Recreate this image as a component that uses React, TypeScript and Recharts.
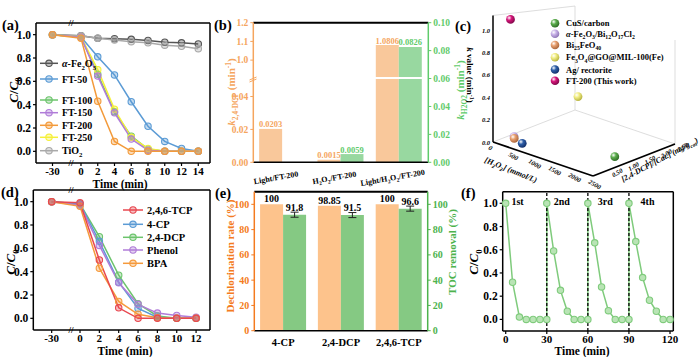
import React from "react";
import {
  LineChart,
  Line,
  BarChart,
  Bar,
  ScatterChart,
  Scatter,
  XAxis,
  YAxis,
  ReferenceLine,
  ReferenceDot,
  LabelList,
  ErrorBar,
} from "recharts";

const FONT = '"Liberation Serif", "Times New Roman", serif';

// (a) C/C0 vs time for the catalysts
const timeA = [-30, 0, 2, 4, 6, 8, 10, 12, 14];
const fe2o3 = [1.0, 0.99, 0.97, 0.965, 0.96, 0.95, 0.935, 0.93, 0.92];
const tio2 = [1.0, 0.99, 0.97, 0.955, 0.94, 0.93, 0.91, 0.9, 0.88];
const ft50 = [1.0, 0.98, 0.81, 0.655, 0.425, 0.215, 0.085, 0.025, 0.0];
const ft100 = [1.0, 0.98, 0.66, 0.34, 0.13, 0.02, 0.0, 0.0, 0.0];
const ft150 = [1.0, 0.98, 0.645, 0.33, 0.105, 0.01, 0.0, 0.0, 0.0];
const ft200 = [1.0, 0.97, 0.43, 0.085, 0.0, 0.0, 0.0, 0.0, 0.0];
const ft250 = [1.0, 0.98, 0.7, 0.36, 0.12, 0.025, 0.0, 0.0, 0.0];
const ticksA = [-30, 0, 2, 4, 6, 8, 10, 12, 14];

// (b) rate constants
const catsB = ["Light/FT-200", "H2O2/FT-200", "Light/H2O2/FT-200"];
const kDcp = [0.0203, 0.0015, 1.0806];
const kH2o2 = [0, 0.0059, 0.0826];
const kDcpTicks = [0, 0.02, 0.04, 1.0, 1.1, 1.2];
const kH2o2Ticks = [0, 0.02, 0.04, 0.06, 0.08, 0.1];

// (c) comparison with literature: [H2O2] (mmol/L), [2,4-DCP]/[Cat.], k (min-1)
const litNames = [
  "CuS/carbon",
  "α-Fe2O3/Bi12O17Cl2",
  "Bi25FeO40",
  "Fe3O4@GO@MIL-100(Fe)",
  "Ag/ rectorite",
  "FT-200 (This work)",
];
const litH2o2 = [2200, 320, 350, 1370, 550, 150];
const litRatio = [1.03, 0.25, 0.22, 0.92, 0.22, 0.35];
const litK = [0.02, 0.06, 0.05, 0.5, 0.03, 1.1];
const h2o2Ticks = [0, 500, 1000, 1500, 2000, 2500];
const ratioTicks = [0.5, 1.0, 1.5, 2.0, 2.5];
const kTicks3d = [0, 0.2, 0.4, 0.6, 0.8, 1.0];

// (d) C/C0 vs time for the pollutants
const timeD = [-30, 0, 2, 4, 6, 8, 10, 12];
const tcp = [1.0, 0.99, 0.5, 0.09, 0.0, 0.0, 0.0, 0.0];
const cp4 = [1.0, 0.98, 0.66, 0.31, 0.085, 0.01, 0.0, 0.0];
const dcp = [1.0, 0.98, 0.7, 0.37, 0.125, 0.02, 0.0, 0.0];
const phenol = [1.0, 0.97, 0.625, 0.305, 0.12, 0.045, 0.025, 0.01];
const bpa = [1.0, 0.96, 0.43, 0.145, 0.035, 0.005, 0.0, 0.0];
const ticksD = [-30, 0, 2, 4, 6, 8, 10, 12];

// (e) dechlorination and TOC removal
const catsE = ["4-CP", "2,4-DCP", "2,4,6-TCP"];
const dechlor = [100, 98.85, 100];
const toc = [91.8, 91.5, 96.6];
const tocErr = [2, 2, 2];

// (f) recycling runs
const runStarts = [0, 30, 60, 90];
const runLabels = ["1st", "2nd", "3rd", "4th"];
const runTimes = [0, 5, 10, 15, 20, 25, 30];
const run1 = [1.0, 0.32, 0.02, 0.0, 0.0, 0.0, 0.0];
const run2 = [1.0, 0.59, 0.25, 0.07, 0.0, 0.0, 0.0];
const run3 = [1.0, 0.66, 0.28, 0.075, 0.0, 0.0, 0.0];
const run4 = [1.0, 0.67, 0.36, 0.165, 0.07, 0.0, 0.0];

const ORANGE_B = "#F5A55E";
const GREEN_B = "#5FCB6B";
const ORANGE_E = "#F47B20";
const GREEN_E = "#4DB34D";

type Seg = [string, string];

function chem(s: string): Seg[] {
  const out: Seg[] = [];
  let prevKind = "n";
  let prevCh = "";
  for (const ch of s) {
    let kind = "n";
    if (/\d/.test(ch) && (prevKind === "b" || /[A-Za-z)]/.test(prevCh))) kind = "b";
    else if (ch === "α") kind = "i";
    if (out.length && out[out.length - 1][1] === kind) out[out.length - 1][0] += ch;
    else out.push([ch, kind]);
    prevKind = kind;
    prevCh = ch;
  }
  return out;
}

function Rich({ segs, fs }: { segs: Seg[]; fs: number }) {
  let shift = 0;
  return (
    <>
      {segs.map(([t, k], i) => {
        const target = k === "b" ? fs * 0.28 : k === "p" ? -fs * 0.38 : 0;
        const dy = target - shift;
        shift = target;
        const small = k === "b" || k === "p";
        return (
          <tspan
            key={i}
            dy={dy}
            fontSize={small ? fs * 0.68 : fs}
            fontStyle={k === "i" ? "italic" : undefined}
          >
            {t}
          </tspan>
        );
      })}
    </>
  );
}

function T({ x, y, fs, segs, rot = 0, anchor = "start", fill = "#000", italic = false }: any) {
  return (
    <text
      x={x}
      y={y}
      fontSize={fs}
      fill={fill}
      fontStyle={italic ? "italic" : undefined}
      textAnchor={anchor}
      transform={rot ? `rotate(${rot} ${x} ${y})` : undefined}
    >
      <Rich segs={segs} fs={fs} />
    </text>
  );
}

const axisBlack = { stroke: "#000", strokeWidth: 1.5 };
const tickBlack = { stroke: "#000", strokeWidth: 1.2 };

// ---------- line panels (a) and (d) ----------
type S = { key: string; color: string; values: number[] };

function DecayChart({ time, series, gapPos, breakPos, domainX, ticks, width, height, margin, yWidth, xHeight }: any) {
  const pos = (t: number) => (t < 0 ? gapPos : t);
  const data = time.map((t: number, i: number) => {
    const row: any = { x: pos(t) };
    series.forEach((s: S) => (row[s.key] = s.values[i]));
    return row;
  });
  return (
    <LineChart width={width} height={height} data={data} margin={margin}>
      <XAxis
        dataKey="x"
        type="number"
        domain={domainX}
        ticks={ticks.map(pos)}
        tickFormatter={(v: number) => (v < 0 ? "-30" : String(v))}
        interval={0}
        height={xHeight}
        axisLine={axisBlack}
        tickLine={tickBlack}
        tickSize={3}
        tickMargin={1}
        tick={{ fill: "#000", fontSize: 11 }}
      />
      <YAxis
        type="number"
        domain={[-0.1, 1.1]}
        ticks={[0, 0.2, 0.4, 0.6, 0.8, 1.0]}
        tickFormatter={(v: number) => v.toFixed(1)}
        width={yWidth}
        axisLine={axisBlack}
        tickLine={tickBlack}
        tickSize={3}
        tick={{ fill: "#000", fontSize: 11.5 }}
      />
      <ReferenceLine y={1.1} stroke="#000" strokeWidth={1.5} />
      <ReferenceLine x={domainX[1]} stroke="#000" strokeWidth={1.5} />
      <ReferenceDot x={breakPos} y={-0.1} r={0} ifOverflow="visible" label={{ value: "//", position: "center", fontSize: 9, fill: "#000" }} />
      <ReferenceDot x={breakPos} y={1.1} r={0} ifOverflow="visible" label={{ value: "//", position: "center", fontSize: 9, fill: "#000" }} />
      {series.map((s: S) => (
        <Line
          key={s.key}
          dataKey={s.key}
          stroke={s.color}
          strokeWidth={1.5}
          dot={{ r: 3.2, fill: s.color, fillOpacity: 0.35, stroke: s.color, strokeWidth: 1.1 }}
          isAnimationActive={false}
        />
      ))}
    </LineChart>
  );
}

const seriesA: S[] = [
  { key: "fe2o3", color: "#555555", values: fe2o3 },
  { key: "tio2", color: "#A9A9A9", values: tio2 },
  { key: "ft50", color: "#5B9BD5", values: ft50 },
  { key: "ft100", color: "#6CC46C", values: ft100 },
  { key: "ft250", color: "#F5F03A", values: ft250 },
  { key: "ft150", color: "#B07CD8", values: ft150 },
  { key: "ft200", color: "#F39A3A", values: ft200 },
];
const legendA = [
  { name: "α-Fe2O3", color: "#555555", y: 63.3 },
  { name: "FT-50", color: "#5B9BD5", y: 79 },
  { name: "FT-100", color: "#6CC46C", y: 100 },
  { name: "FT-150", color: "#B07CD8", y: 112.7 },
  { name: "FT-200", color: "#F39A3A", y: 125.3 },
  { name: "FT-250", color: "#F5F03A", y: 137.3 },
  { name: "TiO2", color: "#A9A9A9", y: 150.7 },
];

const seriesD: S[] = [
  { key: "dcp", color: "#6CC46C", values: dcp },
  { key: "cp4", color: "#5B9BD5", values: cp4 },
  { key: "phenol", color: "#B07CD8", values: phenol },
  { key: "bpa", color: "#F59A3C", values: bpa },
  { key: "tcp", color: "#E8474F", values: tcp },
];
const legendD = [
  { name: "2,4,6-TCP", color: "#E8474F", y: 210 },
  { name: "4-CP", color: "#5B9BD5", y: 224.3 },
  { name: "2,4-DCP", color: "#6CC46C", y: 237.3 },
  { name: "Phenol", color: "#B07CD8", y: 250 },
  { name: "BPA", color: "#F59A3C", y: 263.3 },
];

// ---------- (b) ----------
// broken left axis: 0–0.051 below the break, 0.9–1.2 above, drawn on the 0–0.1 scale of the right axis
const BREAK_B = 0.0603;
const brokenPos = (v: number) => (v <= 0.06 ? v * 1.178 : 0.0732 + (v - 1.0) * 0.134);
const leftTickPos = kDcpTicks.map(brokenPos);

function SlantTick({ x, y, payload }: any) {
  const xx = x - 6;
  const yy = y + 10;
  return (
    <text x={xx} y={yy} fontSize={8} textAnchor="middle" fill="#000" transform={`rotate(-10 ${xx} ${yy})`}>
      <Rich segs={chem(payload.value)} fs={8} />
    </text>
  );
}

function PanelB() {
  const data = catsB.map((c, i) => ({ cat: c, dcp: kDcp[i], dcpPos: brokenPos(kDcp[i]), h2o2: kH2o2[i] }));
  return (
    <BarChart width={258} height={190} data={data} margin={{ top: 22.7, right: 0, left: 0, bottom: 0 }} barCategoryGap="10%" barGap={0}>
      <XAxis dataKey="cat" height={27.7} axisLine={axisBlack} tickLine={false} tick={SlantTick} interval={0} />
      <YAxis
        yAxisId="L"
        domain={[0, 0.1]}
        ticks={leftTickPos}
        tickFormatter={(v: number) => {
          const i = leftTickPos.findIndex((p) => Math.abs(p - v) < 1e-6);
          const t = kDcpTicks[i];
          return t >= 1 ? t.toFixed(1) : t.toFixed(2);
        }}
        width={41.3}
        axisLine={{ stroke: ORANGE_B, strokeWidth: 1.5 }}
        tickLine={{ stroke: ORANGE_B }}
        tickSize={3}
        tick={{ fill: ORANGE_B, fontSize: 9.5 }}
      />
      <YAxis
        yAxisId="R"
        orientation="right"
        domain={[0, 0.1]}
        ticks={kH2o2Ticks}
        tickFormatter={(v: number) => v.toFixed(2)}
        width={41.7}
        axisLine={{ stroke: GREEN_B, strokeWidth: 1.5 }}
        tickLine={{ stroke: GREEN_B }}
        tickSize={3}
        tick={{ fill: GREEN_B, fontSize: 9.5 }}
      />
      <ReferenceLine yAxisId="R" y={0.1} stroke="#000" strokeWidth={2} />
      <Bar yAxisId="L" dataKey="dcpPos" fill="#F9C89B" isAnimationActive={false}>
        <LabelList dataKey="dcp" position="top" offset={1.5} fill={ORANGE_B} fontSize={8.5} formatter={(v: any) => String(v)} />
      </Bar>
      <Bar yAxisId="R" dataKey="h2o2" fill="#98D8A0" isAnimationActive={false}>
        <LabelList dataKey="h2o2" position="top" offset={1.5} fill={GREEN_B} fontSize={8.5} formatter={(v: any) => String(v)} />
      </Bar>
      <ReferenceLine yAxisId="L" y={BREAK_B} stroke="#fff" strokeWidth={2} />
    </BarChart>
  );
}

// ---------- (c) pseudo-3D scatter ----------
const H_MAX = 2500;
const R_MAX = 2.5;
const K_MAX = 1.13;
const proj = (h: number, c: number, k: number) => ({
  x: 33 + 0.04 * h + 32.8 * c,
  y: 142 + 0.0136 * h - 12.8 * c - k * (112 - 8 * c),
});
const litColors = ["#5DAE4E", "#C9B3E8", "#E8A070", "#F2EE86", "#2F5FA8", "#D6157A"];
const litDark = ["#2E6B25", "#8D74B5", "#A8643A", "#B8B440", "#13306A", "#80084A"];
const drawOrder = [0, 1, 2, 4, 3, 5];

function Sphere(props: any) {
  const { cx, cy, payload } = props;
  return <circle cx={cx} cy={cy} r={4.4} fill={`url(#sph${payload.idx})`} />;
}

function SphereDefs() {
  return (
    <defs>
      {litColors.map((c, i) => (
        <radialGradient key={i} id={`sph${i}`} cx="35%" cy="32%" r="70%">
          <stop offset="0%" stopColor="#ffffff" />
          <stop offset="40%" stopColor={c} />
          <stop offset="100%" stopColor={litDark[i]} />
        </radialGradient>
      ))}
    </defs>
  );
}

function PanelC() {
  const pts = drawOrder.map((i) => {
    const p = proj(litH2o2[i], litRatio[i], litK[i]);
    return { px: p.x, py: p.y, idx: i };
  });
  const edge = (a: number[], b: number[], color: string, w: number, key: string) => {
    const p = proj(a[0], a[1], a[2]);
    const q = proj(b[0], b[1], b[2]);
    return (
      <ReferenceLine
        key={key}
        segment={[{ x: p.x, y: p.y }, { x: q.x, y: q.y }]}
        stroke={color}
        strokeWidth={w}
        ifOverflow="visible"
      />
    );
  };
  return (
    <ScatterChart width={240} height={180} margin={{ top: 0, right: 0, left: 0, bottom: 0 }}>
      <SphereDefs />
      <XAxis type="number" dataKey="px" domain={[0, 240]} hide />
      <YAxis type="number" dataKey="py" domain={[0, 180]} reversed hide />
      {edge([0, 0, 0], [0, R_MAX, 0], "#d4d4d4", 0.8, "g1")}
      {edge([0, R_MAX, 0], [H_MAX, R_MAX, 0], "#d4d4d4", 0.8, "g2")}
      {edge([0, R_MAX, 0], [0, R_MAX, K_MAX], "#d4d4d4", 0.8, "g3")}
      {edge([0, 0, K_MAX], [0, R_MAX, K_MAX], "#d4d4d4", 0.8, "g4")}
      {edge([H_MAX, R_MAX, 0], [H_MAX, R_MAX, K_MAX], "#d4d4d4", 0.8, "g5")}
      {edge([0, 0, 0], [0, 0, K_MAX], "#000", 1.5, "k")}
      {edge([0, 0, 0], [H_MAX, 0, 0], "#000", 1.8, "h")}
      {edge([H_MAX, 0, 0], [H_MAX, R_MAX, 0], "#000", 1.8, "c")}
      <Scatter data={pts} shape={Sphere} isAnimationActive={false} />
    </ScatterChart>
  );
}

// ---------- (e) ----------
function PanelE() {
  const data = catsE.map((c, i) => ({ cat: c, dechlor: dechlor[i], toc: toc[i], err: tocErr[i] }));
  return (
    <BarChart width={258} height={182} data={data} margin={{ top: 16.7, right: 0, left: 0, bottom: 0 }} barCategoryGap="10%" barGap={0}>
      <XAxis dataKey="cat" height={26.3} axisLine={axisBlack} tickLine={false} tickMargin={2} tick={{ fill: "#000", fontSize: 10.5 }} interval={0} />
      <YAxis
        yAxisId="L"
        domain={[0, 110]}
        ticks={[0, 20, 40, 60, 80, 100]}
        width={42.3}
        axisLine={{ stroke: ORANGE_E, strokeWidth: 1.5 }}
        tickLine={{ stroke: ORANGE_E }}
        tickSize={3}
        tick={{ fill: ORANGE_E, fontSize: 10 }}
      />
      <YAxis
        yAxisId="R"
        orientation="right"
        domain={[0, 110]}
        ticks={[0, 20, 40, 60, 80, 100]}
        width={42.3}
        axisLine={{ stroke: GREEN_E, strokeWidth: 1.5 }}
        tickLine={{ stroke: GREEN_E }}
        tickSize={3}
        tick={{ fill: GREEN_E, fontSize: 10 }}
      />
      <ReferenceLine yAxisId="L" y={110} stroke="#000" strokeWidth={2} />
      <Bar yAxisId="L" dataKey="dechlor" fill="#FDC38C" isAnimationActive={false}>
        <LabelList dataKey="dechlor" position="top" offset={2} fill="#000" fontSize={10} />
      </Bar>
      <Bar yAxisId="R" dataKey="toc" fill="#85C983" isAnimationActive={false}>
        <ErrorBar dataKey="err" width={4} stroke="#222" strokeWidth={1} direction="y" />
        <LabelList dataKey="toc" position="top" offset={4} fill="#000" fontSize={10} />
      </Bar>
    </BarChart>
  );
}

// ---------- (f) ----------
function PanelF() {
  const runs = [run1, run2, run3, run4];
  const data: { t: number; v: number }[] = [];
  runs.forEach((r, i) => r.forEach((v, j) => data.push({ t: runStarts[i] + runTimes[j], v })));
  return (
    <LineChart width={240} height={182} data={data} margin={{ top: 16.7, right: 26.7, left: 0, bottom: 0 }}>
      <XAxis
        dataKey="t"
        type="number"
        domain={[-2.2, 122.4]}
        ticks={[0, 30, 60, 90, 120]}
        interval={0}
        height={26}
        axisLine={axisBlack}
        tickLine={tickBlack}
        tickSize={3}
        tickMargin={1}
        tick={{ fill: "#000", fontSize: 11 }}
      />
      <YAxis
        type="number"
        domain={[-0.1, 1.1]}
        ticks={[0, 0.2, 0.4, 0.6, 0.8, 1.0]}
        tickFormatter={(v: number) => v.toFixed(1)}
        width={42.7}
        axisLine={axisBlack}
        tickLine={tickBlack}
        tickSize={3}
        tick={{ fill: "#000", fontSize: 11.5 }}
      />
      <ReferenceLine y={1.1} stroke="#000" strokeWidth={1.5} />
      <ReferenceLine x={122.4} stroke="#000" strokeWidth={1.5} />
      <Line
        dataKey="v"
        stroke="#7FCB7C"
        strokeWidth={1.5}
        dot={{ r: 3.2, fill: "#B9E4B5", stroke: "#7FCB7C", strokeWidth: 1.1 }}
        isAnimationActive={false}
      />
      {runStarts.slice(1).map((s) => (
        <ReferenceLine key={s} x={s} stroke="#000" strokeWidth={1.3} strokeDasharray="3 2" />
      ))}
    </LineChart>
  );
}

// ---------- text overlay ----------
const CC0: Seg[] = [["C", "i"], ["/", "n"], ["C", "i"], ["0", "b"]];
const TIME: Seg[] = [["Time (min)", "n"]];

function Overlay() {
  const kLabelSegs: Seg[] = [["k", "i"], [" value (min", "n"], ["-1", "p"], [")", "n"]];
  return (
    <svg width={700} height={357} style={{ position: "absolute", left: 0, top: 0, pointerEvents: "none" }}>
      <SphereDefs />
      {/* panel letters */}
      <T x={2} y={30} fs={14.5} segs={[["(a)", "n"]]} />
      <T x={214} y={30} fs={14.5} segs={[["(b)", "n"]]} />
      <T x={455} y={31} fs={14.5} segs={[["(c)", "n"]]} />
      <T x={1} y={196.5} fs={14.5} segs={[["(d)", "n"]]} />
      <T x={215} y={198} fs={14.5} segs={[["(e)", "n"]]} />
      <T x={461} y={198} fs={14.5} segs={[["(f)", "n"]]} />

      {/* (a) */}
      <T x={17.5} y={90} fs={13} segs={CC0} rot={-90} anchor="middle" />
      <T x={120} y={187.5} fs={11.5} segs={TIME} anchor="middle" />
      {legendA.map((l) => (
        <g key={l.name}>
          <line x1={40} x2={58} y1={l.y} y2={l.y} stroke={l.color} strokeWidth={1.5} />
          <circle cx={49} cy={l.y} r={3.2} fill={l.color} fillOpacity={0.35} stroke={l.color} strokeWidth={1.1} />
          <T x={62} y={l.y + 3.5} fs={10} segs={chem(l.name)} />
        </g>
      ))}

      {/* (b) */}
      <T
        x={235}
        y={92}
        fs={11}
        fill={ORANGE_B}
        rot={-90}
        anchor="middle"
        segs={[["k", "i"], ["2,4-DCP", "b"], [" (min", "n"], ["-1", "p"], [")", "n"]]}
      />
      <T
        x={464}
        y={90}
        fs={11}
        fill={GREEN_B}
        rot={-90}
        anchor="middle"
        segs={[["k", "i"], ["H2O2", "b"], [" (min", "n"], ["-1", "p"], [")", "n"]]}
      />
      <line x1={249.5} y1={80} x2={256.5} y2={77} stroke={ORANGE_B} strokeWidth={1} />
      <line x1={249.5} y1={82} x2={256.5} y2={79} stroke={ORANGE_B} strokeWidth={1} />

      {/* (c) */}
      <T x={467} y={75} fs={9} segs={kLabelSegs} rot={90} anchor="middle" />
      {kTicks3d.map((k) => {
        const p = proj(0, 0, k);
        return <T key={k} x={460 + p.x - 3} y={p.y + 2.5} fs={6.5} italic anchor="end" segs={[[k.toFixed(1), "n"]]} />;
      })}
      {h2o2Ticks.map((h) => {
        const p = proj(h, 0, 0);
        return <T key={h} x={460 + p.x - 5} y={p.y + 7} fs={6.5} italic anchor="start" rot={30} segs={[[String(h), "n"]]} />;
      })}
      {ratioTicks.map((c) => {
        const p = proj(H_MAX, c, 0);
        return <T key={c} x={460 + p.x + 4} y={p.y + 8} fs={6.5} italic anchor="start" rot={-30} segs={[[c.toFixed(2), "n"]]} />;
      })}
      <T x={484} y={162} fs={8} italic rot={22} segs={[["[H", "n"], ["2", "b"], ["O", "n"], ["2", "b"], ["] (mmol/L)", "n"]]} />
      <T x={623} y={182} fs={8} italic rot={-28} segs={[["[2,4-DCP]/[Cat.] (mg/g", "n"], ["cat", "b"], [")", "n"]]} />
      {litNames.map((n, i) => {
        const y = [23.3, 33.8, 45, 57.3, 69.5, 80.7][i];
        return (
          <g key={n}>
            <circle cx={555} cy={y} r={4.3} fill={`url(#sph${i})`} />
            <T x={566} y={y + 3} fs={8.5} segs={chem(n)} />
          </g>
        );
      })}

      {/* (d) */}
      <T x={15} y={262} fs={13} segs={CC0} rot={-90} anchor="middle" />
      <T x={125} y={354.5} fs={11.5} segs={TIME} anchor="middle" />
      {legendD.map((l) => (
        <g key={l.name}>
          <line x1={123} x2={143} y1={l.y} y2={l.y} stroke={l.color} strokeWidth={1.5} />
          <circle cx={133} cy={l.y} r={3.2} fill={l.color} fillOpacity={0.35} stroke={l.color} strokeWidth={1.1} />
          <T x={147} y={l.y + 3.8} fs={10.5} segs={chem(l.name)} />
        </g>
      ))}

      {/* (e) */}
      <T x={234} y={256} fs={11} fill={ORANGE_E} rot={-90} anchor="middle" segs={[["Dechlorination rate (%)", "n"]]} />
      <T x={456} y={252} fs={11} fill={GREEN_E} rot={-90} anchor="middle" segs={[["TOC removal (%)", "n"]]} />

      {/* (f) */}
      <T x={478} y={262} fs={13} segs={CC0} rot={-90} anchor="middle" />
      <T x={582} y={354.5} fs={11.5} segs={TIME} anchor="middle" />
      {runLabels.map((r, i) => (
        <T key={r} x={[517.5, 561.7, 605.3, 647.5][i]} y={205} fs={10} anchor="middle" segs={[[r, "n"]]} />
      ))}
    </svg>
  );
}

export default function App() {
  return (
    <div
      style={{
        position: "absolute",
        left: 0,
        top: 0,
        width: 700,
        height: 357,
        background: "#fff",
        fontFamily: FONT,
        fontWeight: 700,
        overflow: "hidden",
      }}
    >
      <div style={{ position: "absolute", left: 0, top: 0 }}>
        <DecayChart
          time={timeA}
          series={seriesA}
          gapPos={-3.4}
          breakPos={-1.2}
          domainX={[-5.37, 15.4]}
          ticks={ticksA}
          width={225}
          height={190}
          margin={{ top: 23, right: 15, left: 0, bottom: 0 }}
          yWidth={36}
          xHeight={27}
        />
      </div>
      <div style={{ position: "absolute", left: 212, top: 0 }}>
        <PanelB />
      </div>
      <div style={{ position: "absolute", left: 460, top: 0 }}>
        <PanelC />
      </div>
      <div style={{ position: "absolute", left: 0, top: 175 }}>
        <DecayChart
          time={timeD}
          series={seriesD}
          gapPos={-2.93}
          breakPos={-0.93}
          domainX={[-4.83, 13.44]}
          ticks={ticksD}
          width={225}
          height={182}
          margin={{ top: 15, right: 15, left: 0, bottom: 0 }}
          yWidth={33.3}
          xHeight={27}
        />
      </div>
      <div style={{ position: "absolute", left: 212, top: 175 }}>
        <PanelE />
      </div>
      <div style={{ position: "absolute", left: 460, top: 175 }}>
        <PanelF />
      </div>
      <Overlay />
    </div>
  );
}
